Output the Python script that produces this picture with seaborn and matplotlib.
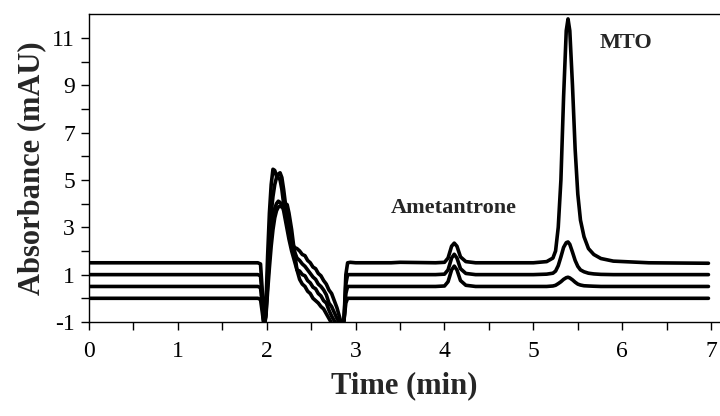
import matplotlib
matplotlib.use("Agg")
import matplotlib.pyplot as plt
import seaborn as sns
import pandas as pd
from matplotlib.ticker import MultipleLocator

sns.set_style("ticks")
plt.rcParams['font.family'] = ['Liberation Serif', 'DejaVu Serif']

# retention time grid (min)
time = [0.0, 1.5, 1.9, 1.93, 1.95, 1.97, 1.99,
        2.01, 2.03, 2.05, 2.07, 2.09, 2.11, 2.13, 2.15, 2.17, 2.19, 2.21, 2.23, 2.25,
        2.28, 2.31, 2.34, 2.37, 2.40, 2.43, 2.46, 2.49, 2.52, 2.55,
        2.58, 2.61, 2.64, 2.67, 2.70, 2.73, 2.76, 2.79, 2.82, 2.85,
        2.87, 2.89, 2.91, 2.94, 3.0, 3.4, 3.5, 3.9,
        4.0, 4.04, 4.08, 4.11, 4.14, 4.18, 4.24, 4.35,
        5.0, 5.15, 5.22, 5.25, 5.28, 5.31, 5.34, 5.37, 5.39, 5.41, 5.44,
        5.47, 5.5, 5.53, 5.57, 5.62, 5.68, 5.76, 5.9, 6.3, 6.97]

# absorbance (mAU), four chromatograms stacked from bottom to top
trace_d = [0, 0, 0, -0.05, -0.6, -1.2, -0.8,
           0.3, 1.3, 2.2, 2.9, 3.4, 3.7, 3.85, 3.9, 3.85, 3.9, 4.0, 3.95, 3.6,
           2.9, 2.0, 1.2, 0.8, 0.6, 0.5, 0.3, 0.2, 0.0, -0.1,
           -0.2, -0.35, -0.45, -0.65, -0.85, -1.05, -1.1, -1.1, -1.15, -1.2,
           -0.9, -0.2, 0.0, 0.0, 0.0, 0.0, 0.0, 0.0,
           0, 0, 0, 0, 0, 0, 0, 0,
           0, 0, 0, 0, 0, 0, 0, 0, 0, 0, 0,
           0, 0, 0, 0, 0, 0, 0, 0, 0, 0]

trace_c = [0.5, 0.5, 0.5, 0.45, -0.3, -1.15, -0.7,
           0.6, 1.8, 2.8, 3.4, 3.8, 4.0, 4.1, 4.05, 3.95, 3.7, 3.3, 2.9, 2.5,
           2.0, 1.6, 1.2, 1.15, 1.0, 0.95, 0.75, 0.65, 0.47, 0.4,
           0.2, 0.1, -0.1, -0.2, -0.5, -0.75, -0.95, -1.1, -1.15, -1.2,
           -0.9, 0.2, 0.5, 0.5, 0.5, 0.5, 0.5, 0.5,
           0.52, 0.7, 1.2, 1.36, 1.2, 0.75, 0.55, 0.5,
           0.5, 0.5, 0.52, 0.55, 0.62, 0.7, 0.8, 0.87, 0.89, 0.86, 0.78,
           0.68, 0.6, 0.56, 0.53, 0.52, 0.51, 0.5, 0.5, 0.5, 0.5]

trace_b = [1.0, 1.0, 1.0, 0.95, 0.0, -1.15, -0.6,
           1.0, 2.5, 3.6, 4.3, 4.8, 5.1, 5.25, 5.3, 5.1, 4.6, 4.0, 3.5, 3.0,
           2.5, 2.0, 1.7, 1.6, 1.45, 1.35, 1.2, 1.05, 0.9, 0.8,
           0.6, 0.5, 0.35, 0.15, -0.2, -0.35, -0.6, -0.85, -1.05, -1.2,
           -0.9, 0.6, 1.0, 1.0, 1.0, 1.0, 1.0, 1.0,
           1.02, 1.2, 1.7, 1.86, 1.7, 1.25, 1.05, 1.0,
           1.0, 1.02, 1.06, 1.15, 1.38, 1.75, 2.15, 2.35, 2.38, 2.28, 1.95,
           1.6, 1.35, 1.2, 1.12, 1.06, 1.03, 1.01, 1.0, 1.0, 1.0]

trace_a = [1.5, 1.5, 1.5, 1.45, 0.3, -1.2, -0.4,
           1.8, 3.6, 4.8, 5.45, 5.4, 5.15, 5.1, 5.0, 4.6, 4.0, 3.5, 3.1, 2.8,
           2.4, 2.15, 2.1, 2.0, 1.85, 1.8, 1.6, 1.5, 1.32, 1.25,
           1.05, 0.95, 0.75, 0.6, 0.35, 0.2, -0.1, -0.4, -0.8, -1.2,
           -0.9, 1.0, 1.5, 1.52, 1.5, 1.5, 1.52, 1.5,
           1.52, 1.7, 2.2, 2.33, 2.2, 1.75, 1.55, 1.5,
           1.5, 1.55, 1.7, 2.0, 3.0, 5.0, 8.5, 11.3, 11.8, 11.3, 9.0,
           6.3, 4.4, 3.3, 2.6, 2.1, 1.85, 1.68, 1.57, 1.5, 1.48]

df = pd.DataFrame({'time': time, 'd': trace_d, 'c': trace_c,
                   'b': trace_b, 'a': trace_a})

fig = plt.figure(figsize=(7.2, 4.16), dpi=100)
ax = fig.add_axes([0.1236, 0.226, 0.8764, 0.74])

for col in ['d', 'c', 'b', 'a']:
    sns.lineplot(data=df, x='time', y=col, color='black', linewidth=2.6,
                 ax=ax, legend=False)

ax.set_xlim(0, 7.1)
ax.set_ylim(-1, 12)
ax.xaxis.set_major_locator(MultipleLocator(1))
ax.xaxis.set_minor_locator(MultipleLocator(0.5))
ax.set_yticks(range(-1, 12))
ax.set_yticklabels([str(v) if v % 2 else '' for v in range(-1, 12)])
ax.tick_params(axis='both', which='both', direction='out', length=6,
               width=1, labelsize=17, colors='black')
ax.tick_params(axis='x', pad=8)
ax.tick_params(axis='y', pad=4)

ax.spines['right'].set_visible(False)
for s in ['left', 'bottom', 'top']:
    ax.spines[s].set_linewidth(1)
    ax.spines[s].set_color('black')

ax.set_xlabel('Time (min)', fontsize=22, fontweight='bold', labelpad=6)
ax.set_ylabel('Absorbance (mAU)', fontsize=22, fontweight='bold', labelpad=4)

ax.text(6.04, 10.8, 'MTO', fontsize=16, fontweight='bold',
        ha='center', va='center')
ax.text(4.1, 3.8, 'Ametantrone', fontsize=16, fontweight='bold',
        ha='center', va='center')

fig.savefig('out.png', dpi=100)
